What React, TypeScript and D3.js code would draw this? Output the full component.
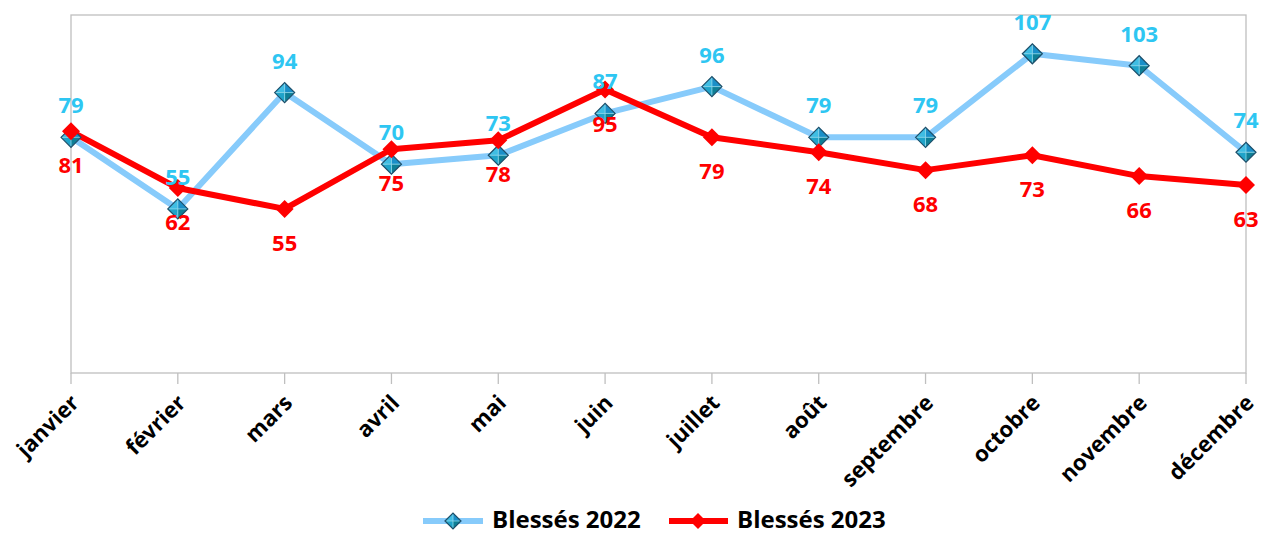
import React from "react";
import { scalePoint, scaleLinear, line } from "d3";

const months = [
  "janvier", "février", "mars", "avril", "mai", "juin",
  "juillet", "août", "septembre", "octobre", "novembre", "décembre",
];
const blesses2022 = [79, 55, 94, 70, 73, 87, 96, 79, 79, 107, 103, 74];
const blesses2023 = [81, 62, 55, 75, 78, 95, 79, 74, 68, 73, 66, 63];
const seriesNames = ["Blessés 2022", "Blessés 2023"];

const width = 1261;
const height = 535;
const margin = { top: 15, right: 15, bottom: 162, left: 71 };
const innerWidth = width - margin.left - margin.right;
const innerHeight = height - margin.top - margin.bottom;

const font = "'Open Sans', 'DejaVu Sans', sans-serif";
const blueLine = "#87cbfb";
const blueText = "#2ec6f2";
const red = "#ff0000";
const grey = "#bfbfbf";

const BlueMarker = ({ x, y, r = 10 }: { x: number; y: number; r?: number }) => (
  <g transform={`translate(${x},${y})`}>
    <polygon points={`0,0 ${-r},0 0,${-r}`} fill="#3fbde3" />
    <polygon points={`0,0 0,${-r} ${r},0`} fill="#1a8fc8" />
    <polygon points={`0,0 ${r},0 0,${r}`} fill="#0e7f96" />
    <polygon points={`0,0 0,${r} ${-r},0`} fill="#1fa3c9" />
    <line x1={-r} x2={r} y1={0} y2={0} stroke="#8fd8ea" strokeWidth={0.8} />
    <line x1={0} x2={0} y1={-r} y2={r} stroke="#8fd8ea" strokeWidth={0.8} />
    <polygon
      points={`${-r},0 0,${-r} ${r},0 0,${r}`}
      fill="none"
      stroke="#1d4f6a"
      strokeWidth={1.2}
    />
  </g>
);

const RedMarker = ({ x, y, r = 9 }: { x: number; y: number; r?: number }) => (
  <polygon
    transform={`translate(${x},${y})`}
    points={`${-r},0 0,${-r} ${r},0 0,${r}`}
    fill={red}
  />
);

export default function App() {
  const xScale = scalePoint<string>().domain(months).range([0, innerWidth]);
  const yScale = scaleLinear().domain([0, 120]).range([innerHeight, 0]);

  const path = line<number>()
    .x((_, i) => xScale(months[i]) as number)
    .y((d) => yScale(d));

  return (
    <svg width={width} height={height} style={{ position: "absolute", left: 0, top: 0 }}>
      <g transform={`translate(${margin.left},${margin.top})`} fontFamily={font} fontWeight="bold">
        <rect x={0} y={0} width={innerWidth} height={innerHeight} fill="none" stroke={grey} strokeWidth={1.3} />
        {months.map((m) => (
          <g key={m} transform={`translate(${xScale(m)},0)`}>
            <line y1={innerHeight} y2={innerHeight + 11} stroke={grey} strokeWidth={1.3} />
            <text
              transform={`translate(-2,${innerHeight + 20}) rotate(-45)`}
              textAnchor="end"
              dy="0.72em"
              fontSize={22}
              fill="#000"
            >
              {m}
            </text>
          </g>
        ))}

        <path d={path(blesses2022) || ""} fill="none" stroke={blueLine} strokeWidth={6} strokeLinejoin="round" />
        <path d={path(blesses2023) || ""} fill="none" stroke={red} strokeWidth={6} strokeLinejoin="round" />
        {blesses2022.map((v, i) => (
          <BlueMarker key={"b" + i} x={xScale(months[i]) as number} y={yScale(v)} />
        ))}
        {blesses2023.map((v, i) => (
          <RedMarker key={"r" + i} x={xScale(months[i]) as number} y={yScale(v)} />
        ))}

        {blesses2022.map((v, i) => (
          <text
            key={"bl" + i}
            x={xScale(months[i])}
            y={yScale(v) - 24}
            textAnchor="middle"
            fontSize={22}
            fill={blueText}
          >
            {v}
          </text>
        ))}
        {blesses2023.map((v, i) => (
          <text
            key={"rl" + i}
            x={xScale(months[i])}
            y={yScale(v) + 42}
            textAnchor="middle"
            fontSize={22}
            fill={red}
          >
            {v}
          </text>
        ))}
      </g>

      <g fontFamily={font} fontWeight="bold" fontSize={24}>
        <line x1={423} x2={483} y1={521} y2={521} stroke={blueLine} strokeWidth={6} />
        <BlueMarker x={453} y={521} r={8} />
        <text x={492} y={528} fill="#000">{seriesNames[0]}</text>
        <line x1={669} x2={728} y1={521} y2={521} stroke={red} strokeWidth={6} />
        <RedMarker x={698} y={521} r={8} />
        <text x={737} y={528} fill="#000">{seriesNames[1]}</text>
      </g>
    </svg>
  );
}
